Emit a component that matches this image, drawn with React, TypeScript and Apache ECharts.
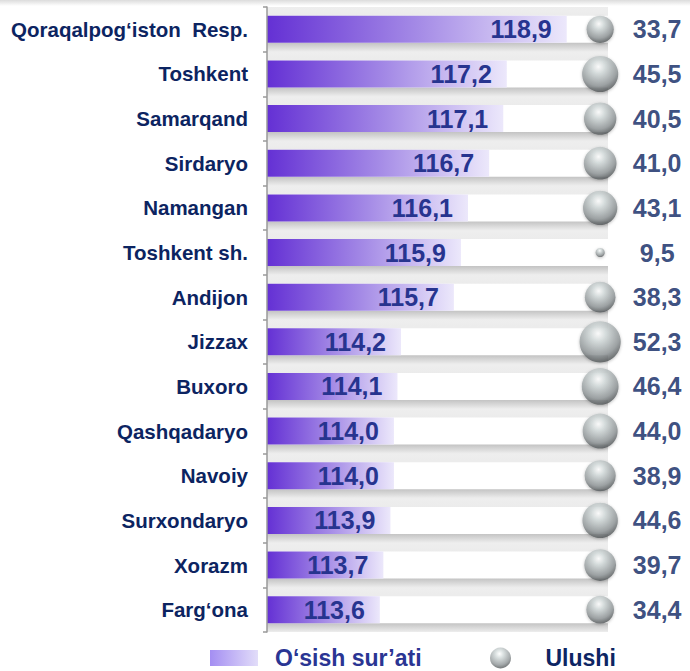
import React, { useEffect, useRef } from "react";
import * as echarts from "echarts";

const categories = [
  "Qoraqalpog‘iston  Resp.",
  "Toshkent",
  "Samarqand",
  "Sirdaryo",
  "Namangan",
  "Toshkent sh.",
  "Andijon",
  "Jizzax",
  "Buxoro",
  "Qashqadaryo",
  "Navoiy",
  "Surxondaryo",
  "Xorazm",
  "Farg‘ona",
];
const growth = [118.9, 117.2, 117.1, 116.7, 116.1, 115.9, 115.7, 114.2, 114.1, 114.0, 114.0, 113.9, 113.7, 113.6];
const share = [33.7, 45.5, 40.5, 41.0, 43.1, 9.5, 38.3, 52.3, 46.4, 44.0, 38.9, 44.6, 39.7, 34.4];
const seriesNames = ["O‘sish sur’ati", "Ulushi"];
const BUBBLE_COLUMN = 97.7;

const fmt = (v: number) => v.toFixed(1).replace(".", ",");
const FONT = 'Arial, "Liberation Sans", sans-serif';

export default function App() {
  const ref = useRef<HTMLDivElement>(null);
  useEffect(() => {
    if (!ref.current) return;
    const chart = echarts.init(ref.current, undefined, { renderer: "svg" });
    const barGrad = new echarts.graphic.LinearGradient(0, 0, 1, 0, [
      { offset: 0, color: "#6430d4" },
      { offset: 0.5, color: "#a48ae6" },
      { offset: 1, color: "#ece8fb" },
    ]);
    const legendGrad = new echarts.graphic.LinearGradient(0, 0, 1, 0, [
      { offset: 0, color: "#a48ef2" },
      { offset: 1, color: "#e2ddf9" },
    ]);
    const sphere = new echarts.graphic.RadialGradient(0.45, 0.3, 0.75, [
      { offset: 0, color: "#ffffff" },
      { offset: 0.25, color: "#d2dada" },
      { offset: 0.7, color: "#8e9496" },
      { offset: 1, color: "#404446" },
    ]);
    const shade = new echarts.graphic.LinearGradient(0, 0, 0, 1, [
      { offset: 0, color: "#eeeeee" },
      { offset: 0.78, color: "#e4e4e4" },
      { offset: 0.8, color: "#c2c2c2" },
      { offset: 1, color: "#ebebeb" },
    ]);
    chart.setOption({
      animation: false,
      backgroundColor: "#ffffff",
      grid: {
        left: 267,
        right: 82,
        top: 7,
        bottom: 39,
        show: true,
        backgroundColor: "#ececec",
        borderWidth: 0,
      },
      graphic: [
        {
          type: "rect",
          shape: { x: 0, y: 0, width: 690, height: 6 },
          style: {
            fill: new echarts.graphic.LinearGradient(0, 0, 0, 1, [
              { offset: 0, color: "#dcdcdc" },
              { offset: 1, color: "#ffffff" },
            ]),
          },
          silent: true,
        },
      ],
      legend: [
        {
          left: 205,
          top: 641,
          itemWidth: 48,
          itemHeight: 16,
          data: [{ name: seriesNames[0], icon: "rect", itemStyle: { color: legendGrad } }],
          textStyle: {
            fontFamily: FONT,
            fontSize: 23,
            lineHeight: 24,
            fontWeight: "bold",
            color: "#2a3593",
            padding: [0, 0, 0, 12],
          },
        },
        {
          left: 485,
          top: 640,
          itemWidth: 24,
          itemHeight: 21,
          data: [{ name: seriesNames[1], icon: "circle", itemStyle: { color: sphere } }],
          textStyle: {
            fontFamily: FONT,
            fontSize: 23,
            lineHeight: 24,
            fontWeight: "bold",
            color: "#0d2563",
            padding: [2, 0, 0, 28],
          },
        },
      ],
      xAxis: [
        { type: "value", min: 110.4, max: 120.07, show: false },
        { type: "value", min: 0, max: 100, show: false },
      ],
      yAxis: [
        {
          type: "category",
          data: categories,
          inverse: true,
          axisLine: { show: true, lineStyle: { color: "#9a9a9a", width: 1.5 } },
          axisTick: { show: true, length: 4, lineStyle: { color: "#9a9a9a", width: 1.5 } },
          axisLabel: {
            margin: 19,
            fontFamily: FONT,
            fontSize: 20.5,
            fontWeight: "bold",
            color: "#0c2461",
          },
          splitLine: { show: false },
          z: 4,
        },
        { type: "category", data: categories, inverse: true, show: false },
      ],
      series: [
        {
          type: "bar",
          xAxisIndex: 0,
          yAxisIndex: 1,
          data: growth,
          barWidth: 44,
          itemStyle: { color: "rgba(0,0,0,0)" },
          showBackground: true,
          backgroundStyle: { color: shade },
          silent: true,
          z: 0,
        },
        {
          name: seriesNames[0],
          type: "bar",
          xAxisIndex: 0,
          yAxisIndex: 0,
          data: growth,
          barWidth: 27,
          itemStyle: { color: barGrad },
          showBackground: true,
          backgroundStyle: { color: "#ffffff" },
          label: {
            show: true,
            position: "insideRight",
            distance: 15,
            formatter: (p: any) => fmt(p.value),
            fontFamily: FONT,
            fontSize: 25,
            fontWeight: "bold",
            color: "#27348f",
          },
          z: 2,
        },
        {
          name: seriesNames[1],
          type: "scatter",
          xAxisIndex: 1,
          yAxisIndex: 0,
          data: categories.map((c, i) => [BUBBLE_COLUMN, c, share[i]]),
          symbolSize: (v: any) => 2 + 0.75 * v[2],
          itemStyle: {
            color: sphere,
            shadowColor: "rgba(0,0,0,0.3)",
            shadowBlur: 3,
            shadowOffsetY: 1,
          },
          label: {
            show: true,
            position: "inside",
            offset: [57, 0],
            align: "center",
            formatter: (p: any) => fmt(p.value[2]),
            fontFamily: FONT,
            fontSize: 25,
            fontWeight: "bold",
            color: "#0a2260",
          },
          z: 5,
        },
      ],
    });
    return () => chart.dispose();
  }, []);
  return <div ref={ref} style={{ width: 690, height: 671, position: "absolute", left: 0, top: 0 }} />;
}
